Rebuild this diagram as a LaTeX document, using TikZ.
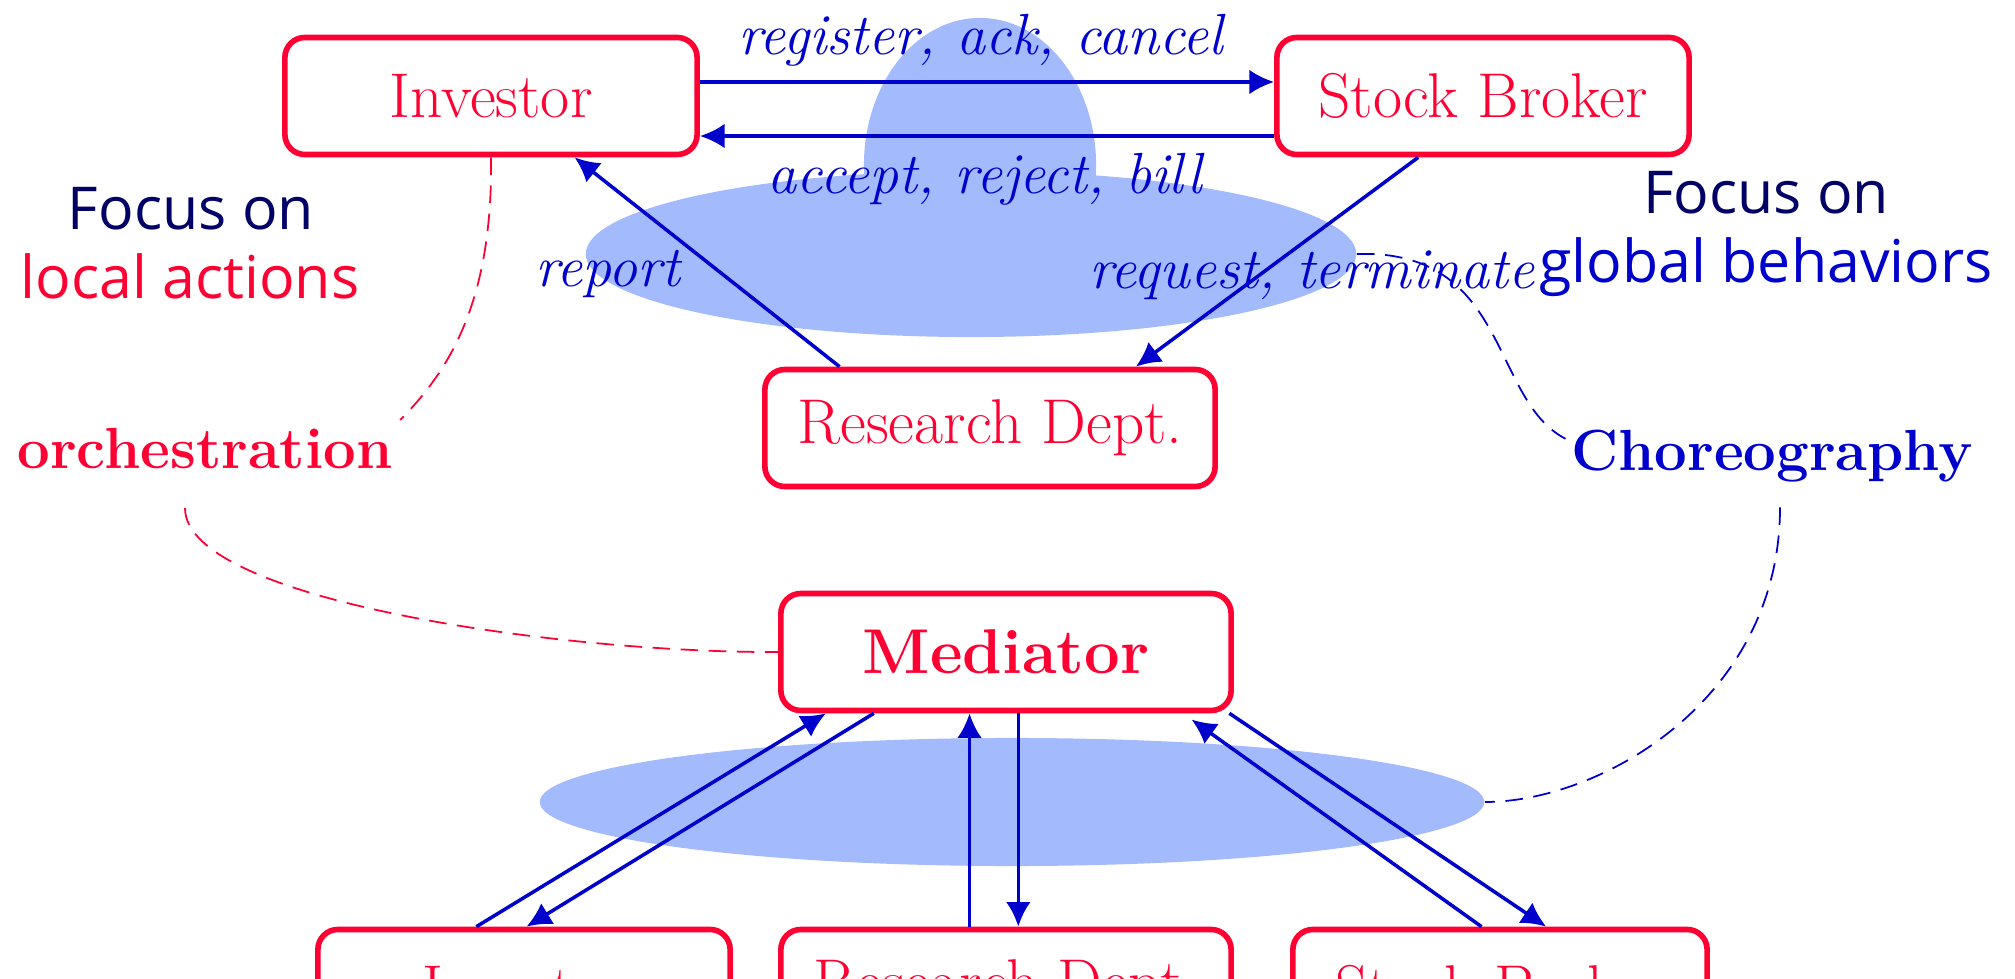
\documentclass[tikz,border=0pt]{standalone}
\usepackage{fontspec}
\usepackage{tikz}
\usetikzlibrary{arrows.meta,shapes.geometric,calc}
\newfontfamily\focusfont{Open Sans}
\definecolor{boxred}{RGB}{255,0,51}
\definecolor{msgblue}{RGB}{0,0,204}
\definecolor{focusnavy}{RGB}{0,0,102}
\definecolor{hatblue}{RGB}{163,187,252}

\begin{document}
\begin{tikzpicture}[x=0.01cm,y=-0.01cm,
  party/.style={draw=boxred,line width=1.6pt,rounded corners=0.2cm,text=boxred,
    minimum height=1.17cm,font=\fontsize{18}{21}\selectfont},
  msg/.style={msgblue,line width=1pt,-{Latex[length=7pt,width=7pt]}},
  lbl/.style={text=msgblue,font=\fontsize{16.5}{20}\selectfont\itshape,anchor=base,inner sep=2pt},
  focus/.style={font=\focusfont\fontsize{16.8}{20}\selectfont,anchor=base,inner sep=2pt},
  kind/.style={font=\fontsize{16.5}{20}\selectfont\bfseries,anchor=base,inner sep=2pt},
  note/.style={line width=0.5pt,dash pattern=on 5pt off 3pt},
  blob/.style={ellipse,fill=hatblue,draw=none,inner sep=0pt}]
  \useasboundingbox (0,0) rectangle (2015,979);
  \clip (0,0) rectangle (2015,979);
  % shared message space
  \node[blob,minimum width=2.32cm,minimum height=2.94cm] (dome) at (980,165) {};
  \node[blob,minimum width=7.70cm,minimum height=1.66cm] (hat) at (971,254) {};
  \node[blob,minimum width=9.44cm,minimum height=1.28cm] (disc) at (1012,802) {};
  % choreography parties
  \node[party,minimum width=4.12cm] (inv) at (491,96) {Investor};
  \node[party,minimum width=4.12cm] (sb) at (1483,96) {Stock Broker};
  \node[party,minimum width=4.50cm] (rd) at (990,428) {Research Dept.};
  % orchestration parties
  \node[party,minimum width=4.50cm] (med) at (1006,652) {\bfseries Mediator};
  \foreach \nm/\xk/\bw/\txt in {binv/524/4.12/Investor,brd/1006/4.50/Research Dept.,bsb/1500/4.14/Stock Broker}{
    \node[party,minimum width=\bw cm] (\nm) at (\xk,988) {\txt};
  }
  % messages, top
  \draw[msg] ([yshift=0.14cm]inv.east) -- ([yshift=0.14cm]sb.west);
  \draw[msg] ([yshift=-0.40cm]sb.west) -- ([yshift=-0.40cm]inv.east);
  \draw[msg] ($(rd.north west)!0.17!(rd.north east)$) -- ($(inv.south west)!0.70!(inv.south east)$);
  \draw[msg] ($(sb.south west)!0.345!(sb.south east)$) -- ($(rd.north west)!0.82!(rd.north east)$);
  % messages, bottom
  \draw[msg] ($(binv.north west)!0.386!(binv.north east)$) -- ($(med.south west)!0.105!(med.south east)$);
  \draw[msg] ($(med.south west)!0.21!(med.south east)$) -- ($(binv.north west)!0.506!(binv.north east)$);
  \draw[msg] ($(brd.north west)!0.42!(brd.north east)$) -- ($(med.south west)!0.42!(med.south east)$);
  \draw[msg] ($(med.south west)!0.527!(med.south east)$) -- ($(brd.north west)!0.527!(brd.north east)$);
  \draw[msg,shorten >=3pt] ($(bsb.north west)!0.456!(bsb.north east)$) -- ($(med.south west)!0.888!(med.south east)$);
  \draw[msg] ($(med.south west)!0.99!(med.south east)$) -- ($(bsb.north west)!0.61!(bsb.north east)$);
  % message labels
  \node[lbl] (regl) at (981,55) {register, ack, cancel};
  \node[lbl] (accl) at (985,193) {accept, reject, bill};
  \node[lbl] (repl) at (608,287) {report};
  \node[lbl] (reql) at (1312,288) {request, terminate};
  % side notes
  \node[focus,text=focusnavy] (lfoc) at (191,229) {Focus on};
  \node[focus,text=boxred] (lloc) at (190,298) {local actions};
  \node[focus,text=focusnavy] (rfoc) at (1766,213) {Focus on};
  \node[focus,text=msgblue] (rglob) at (1766,282) {global behaviors};
  \node[kind,text=boxred] (orc) at (205,468) {orchestration};
  \node[kind,text=msgblue] (chor) at (1772,470) {Choreography};
  \draw[note,boxred] (inv.south) .. controls (493,300) and (450,370) .. (orc.north east);
  \draw[note,boxred] ([shift={(-20,32)}]orc.south) .. controls (185,600) and (560,653) .. (med.west);
  \draw[note,msgblue] (hat.east) .. controls (1510,249) and (1490,400) .. ([shift={(2,17)}]chor.north west);
  \draw[note,msgblue] ([shift={(8,18)}]chor.south) .. controls (1780,700) and (1600,802) .. (disc.east);
\end{tikzpicture}
\end{document}
